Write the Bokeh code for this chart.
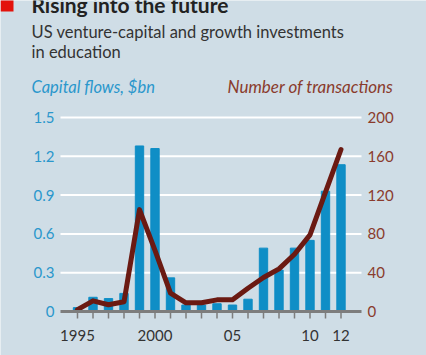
from bokeh.plotting import figure
from bokeh.models import Range1d
from bokeh.core.properties import value
from bokeh.embed import file_html
from bokeh.resources import INLINE

years = list(range(1995, 2013))
capital_bn = [0.03, 0.11, 0.10, 0.14, 1.28, 1.26, 0.26, 0.05, 0.05, 0.06, 0.05, 0.095,
              0.49, 0.32, 0.49, 0.55, 0.93, 1.135]
transactions = [2, 11, 7, 10, 105, 63, 19, 9, 9, 12, 12, 24, 35, 44, 59, 79, 123, 167]
left_ticks = [0, 0.3, 0.6, 0.9, 1.2, 1.5]
left_tick_labels = ["0", "0.3", "0.6", "0.9", "1.2", "1.5"]
right_ticks = [0, 40, 80, 120, 160, 200]
right_tick_labels = ["0", "40", "80", "120", "160", "200"]
x_label_years = [1995, 2000, 2005, 2010, 2012]
x_tick_labels = ["1995", "2000", "05", "10", "12"]

title = "Rising into the future"
subtitle_lines = ["US venture-capital and growth investments", "in education"]
left_label = "Capital flows, $bn"
right_label = "Number of transactions"

BG = "#cfdde6"
BLUE = "#0f8ec6"
BLUE_TXT = "#2a97cc"
MAROON = "#6b1a12"
RED_TXT = "#8a3b2c"
GREY = "#7d7d7d"
FONT = "Lato"

W, H = 426, 355
# plot-area geometry (pixels from top-left)
PX_LEFT, PX_RIGHT, PX_TOP, PX_BOTTOM = 60, 361, 117, 311
PX_1995, PX_PER_YEAR = 77, 15.5
ppu_left = (PX_BOTTOM - PX_TOP) / left_ticks[-1]
ppu_right = (PX_BOTTOM - PX_TOP) / right_ticks[-1]

x_range = Range1d(1995 - PX_1995 / PX_PER_YEAR, 1995 + (W - PX_1995) / PX_PER_YEAR)
y_range = Range1d(-(H - PX_BOTTOM) / ppu_left, PX_BOTTOM / ppu_left)

p = figure(width=W, height=H, output_backend="svg", toolbar_location=None,
           x_range=x_range, y_range=y_range,
           x_axis_location=None, y_axis_location=None, min_border=0,
           background_fill_color=BG, border_fill_color=BG, outline_line_color=None)
p.grid.visible = False
p.extra_y_ranges = {"tx": Range1d(-(H - PX_BOTTOM) / ppu_right, PX_BOTTOM / ppu_right),
                    "py": Range1d(H, 0)}
p.extra_x_ranges = {"px": Range1d(0, W)}

# gridlines
grid_vals = left_ticks[1:]
p.segment(x0=[PX_LEFT] * len(grid_vals), x1=[PX_RIGHT] * len(grid_vals),
          y0=grid_vals, y1=grid_vals, x_range_name="px",
          line_color="white", line_width=2)

# bars and line
p.vbar(x=years, top=capital_bn, width=0.54, color=BLUE)
p.line(x=years, y=transactions, y_range_name="tx", line_color=MAROON, line_width=5,
       line_join="round", line_cap="round")

# x axis line and ticks
p.segment(x0=[PX_LEFT], x1=[PX_RIGHT], y0=[0], y1=[0], x_range_name="px",
          line_color=GREY, line_width=3)
p.segment(x0=years, x1=years, y0=[PX_BOTTOM] * len(years), y1=[PX_BOTTOM + 7] * len(years),
          y_range_name="py", line_color=GREY, line_width=1.5)
p.text(x=x_label_years, y=[335] * len(x_label_years), y_range_name="py",
       text=x_tick_labels, text_font=value(FONT), text_font_size="15px",
       text_color="#333333", text_align="center", text_baseline="middle")

# left and right tick labels
p.text(x=[54] * len(left_ticks), y=left_ticks, x_range_name="px", text=left_tick_labels,
       text_font=value(FONT), text_font_size="15px", text_color=BLUE_TXT,
       text_align="right", text_baseline="middle")
p.text(x=[367] * len(right_ticks), y=right_ticks, x_range_name="px", y_range_name="tx",
       text=right_tick_labels, text_font=value(FONT), text_font_size="15px",
       text_color=RED_TXT, text_align="left", text_baseline="middle")

# header (y values are visual centres, pixels from the top)
p.quad(left=[0], right=[13], top=[-5], bottom=[11], x_range_name="px", y_range_name="py",
       fill_color="#e3120b", line_color=None)
p.text(x=[31], y=[4], text=[title], x_range_name="px", y_range_name="py",
       text_font=value(FONT), text_font_size="21px", text_font_style="bold",
       text_color="#222222", text_baseline="middle")
p.text(x=[31, 31], y=[31, 51], text=subtitle_lines, x_range_name="px", y_range_name="py",
       text_font=value(FONT), text_font_size="16.5px", text_color="#333333",
       text_baseline="middle")
p.text(x=[31], y=[86], text=[left_label], x_range_name="px", y_range_name="py",
       text_font=value(FONT), text_font_size="16.5px", text_font_style="italic",
       text_color=BLUE_TXT, text_baseline="middle")
p.text(x=[393], y=[86], text=[right_label], x_range_name="px", y_range_name="py",
       text_font=value(FONT), text_font_size="17px", text_font_style="italic",
       text_color=RED_TXT, text_baseline="middle", text_align="right")

open("out.html", "w").write(file_html(p, INLINE))
